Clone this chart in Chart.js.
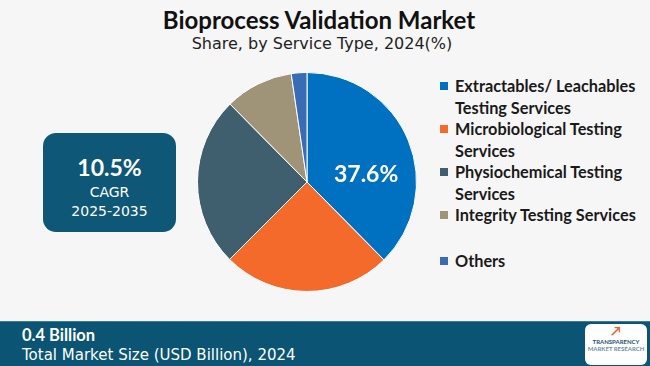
<!DOCTYPE html>
<html>
<head>
<meta charset="utf-8">
<script src="https://cdn.jsdelivr.net/npm/chart.js@4"></script>
<style>
  body { margin: 0; width: 650px; height: 366px; background: #f6f6f6; position: relative; overflow: hidden; font-family: Lato, "Open Sans", sans-serif; }
  #title { position: absolute; top: 5px; left: -6px; width: 650px; text-align: center; font-weight: bold; font-size: 24px; color: #111; }
  #subtitle { position: absolute; top: 34px; left: -3px; width: 650px; text-align: center; font-family: "DejaVu Sans", sans-serif; font-size: 16px; color: #222; }
  #pieBox { position: absolute; left: 197px; top: 72px; width: 220px; height: 220px; }
  #legend { position: absolute; left: 440px; top: 75px; width: 210px; }
  .item { position: relative; padding-left: 15px; font-weight: bold; font-size: 16.3px; line-height: 21.5px; color: #1a1a1a; white-space: nowrap; }
  .item span.sw { position: absolute; left: 0; top: 7px; width: 8px; height: 8px; }
  #cagr { position: absolute; left: 43px; top: 133px; width: 133px; height: 99px; background: #0e5777; border-radius: 13px; color: #fff; text-align: center; }
  #cagr .v { font-weight: bold; font-size: 23px; margin-top: 20px; }
  #cagr .t { font-family: "DejaVu Sans", sans-serif; font-size: 14px; line-height: 19px; margin-top: 2px; }
  #footer { position: absolute; left: 0; top: 321px; width: 650px; height: 45px; background: #0b5473; border-top: 1px solid #3a7d99; color: #fff; }
  #footer .b { position: absolute; left: 22px; top: 3px; font-weight: bold; font-size: 16.5px; }
  #footer .s { position: absolute; left: 22px; top: 24px; font-family: "DejaVu Sans", sans-serif; font-size: 15px; }
  #logo { position: absolute; left: 585px; top: 2px; width: 62px; height: 41px; background: #fff; border-radius: 6px; text-align: center; font-size: 6px; color: #1c4f75; font-weight: bold; line-height: 7px; }
</style>
</head>
<body>
<div id="title">Bioprocess Validation Market</div>
<div id="subtitle">Share, by Service Type, 2024(%)</div>
<div id="cagr"><div class="v">10.5%</div><div class="t">CAGR<br>2025-2035</div></div>
<div id="pieBox"><canvas id="pie"></canvas></div>
<div id="legend"></div>
<div id="footer">
  <div class="b">0.4 Billion</div>
  <div class="s">Total Market Size (USD Billion), 2024</div>
  <div id="logo"><div style="height:14px;color:#e8632b;font-size:13px;line-height:15px">&#x2197;</div>TRANSPARENCY<br><span style="color:#6a8fa8">MARKET RESEARCH</span></div>
</div>
<script>
// segmentos del pie
const categorias = [
  ['Extractables/ Leachables', 'Testing Services'],
  ['Microbiological Testing', 'Services'],
  ['Physiochemical Testing', 'Services'],
  ['Integrity Testing Services'],
  ['Others']
];
const valores = [37.6, 24.9, 25.1, 10.1, 2.3];
const colores = ['#0070c0', '#f46a2b', '#3f5f6e', '#a09478', '#3a6bb5'];

// leyenda en html (etiquetas de varias lineas)
const legend = document.getElementById('legend');
categorias.forEach((c, i) => {
  const d = document.createElement('div');
  d.className = 'item';
  if (i === 4) d.style.marginTop = '24px';
  d.innerHTML = `<span class="sw" style="background:${colores[i]}"></span>${c.join('<br>')}`;
  legend.appendChild(d);
});

// etiqueta del primer segmento
const etiquetaPlugin = {
  id: 'etiqueta',
  afterDatasetsDraw(chart) {
    const arc = chart.getDatasetMeta(0).data[0];
    const { x, y, outerRadius } = arc.getProps(['x', 'y', 'outerRadius'], true);
    const ctx = chart.ctx;
    ctx.save();
    ctx.fillStyle = '#fff';
    ctx.font = 'bold 23px Lato, sans-serif';
    ctx.textAlign = 'center';
    ctx.textBaseline = 'middle';
    ctx.fillText(valores[0].toFixed(1) + '%', x + outerRadius * 0.54, y - outerRadius * 0.07);
    ctx.restore();
  }
};

new Chart(document.getElementById('pie'), {
  type: 'pie',
  data: {
    labels: categorias.map(c => c.join(' ')),
    datasets: [{
      data: valores,
      backgroundColor: colores,
      borderColor: '#ffffff',
      borderWidth: 1
    }]
  },
  options: {
    responsive: true,
    maintainAspectRatio: false,
    animation: false,
    layout: { padding: 0 },
    plugins: {
      legend: { display: false },
      tooltip: { enabled: false }
    }
  },
  plugins: [etiquetaPlugin]
});
</script>
</body>
</html>
